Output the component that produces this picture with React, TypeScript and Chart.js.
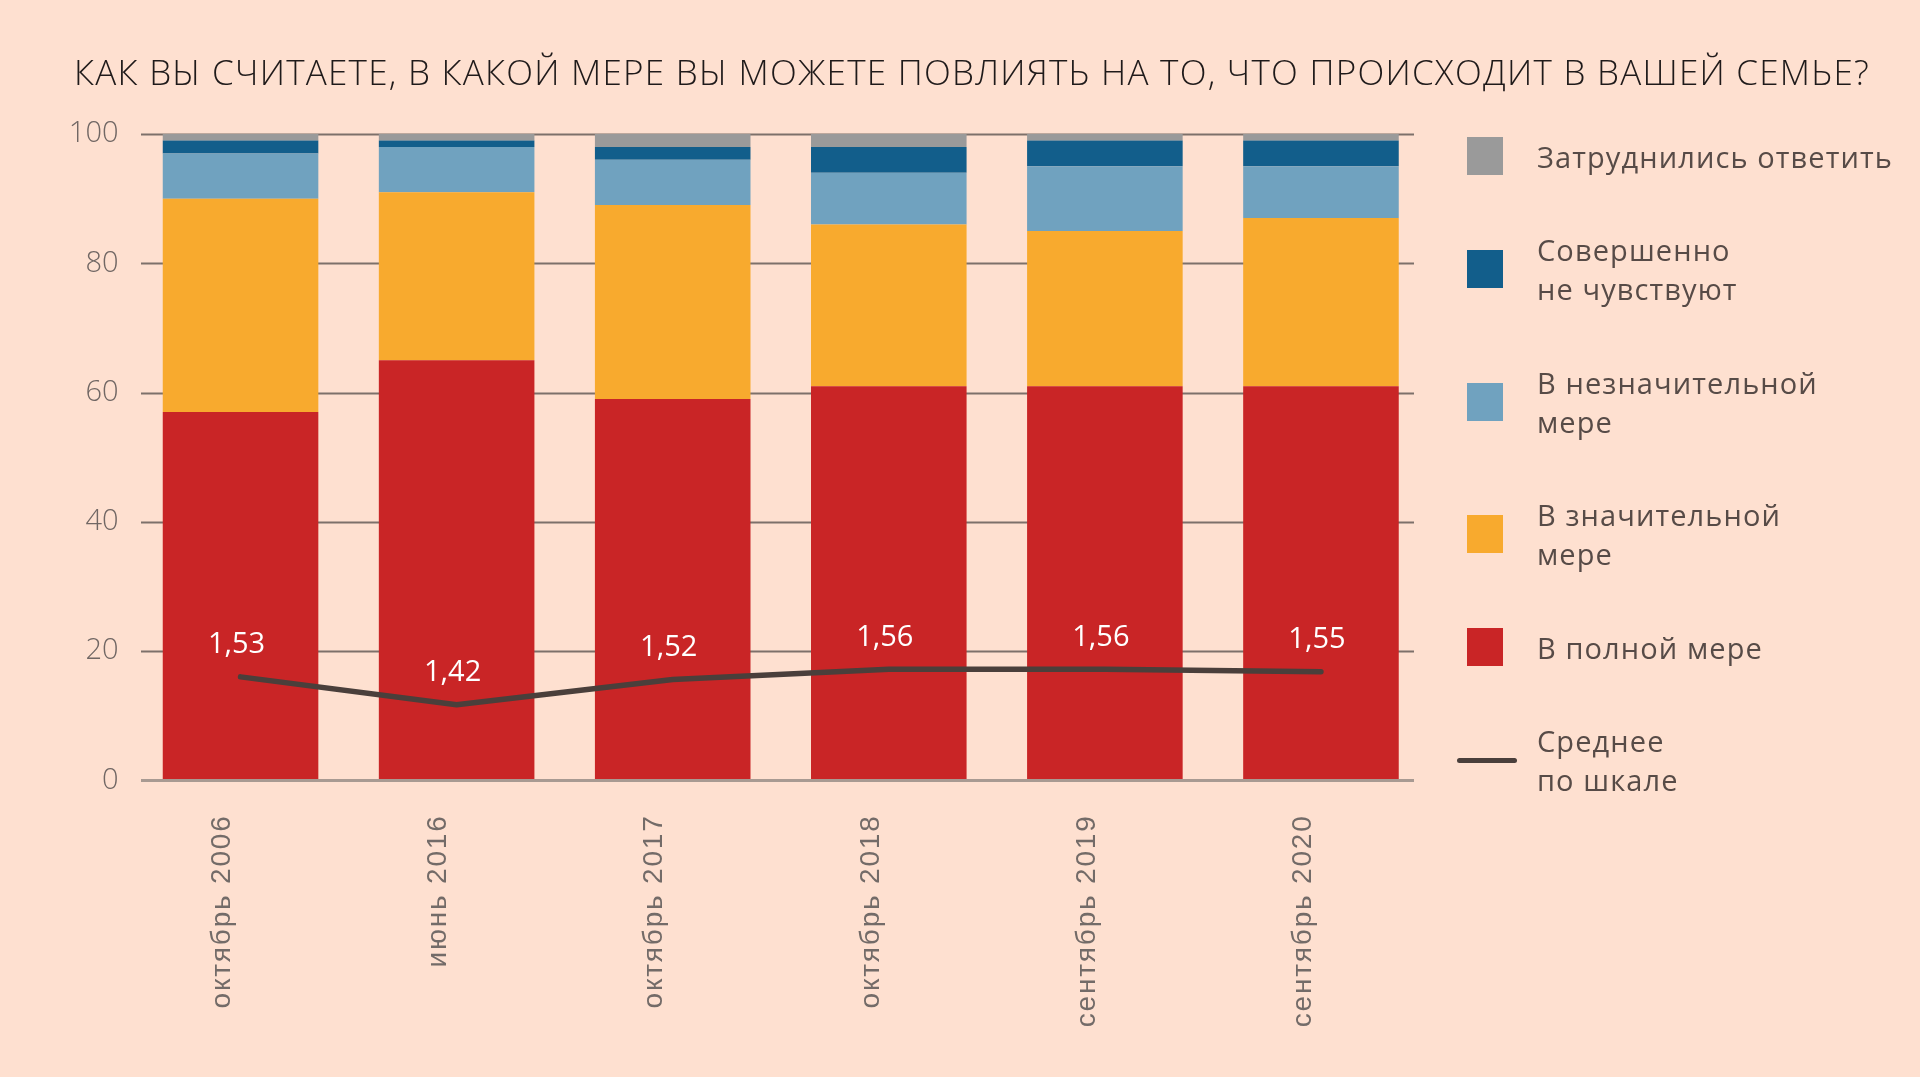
import React, { useEffect, useRef } from "react";
import { Chart, registerables } from "chart.js";

Chart.register(...registerables);

const TITLE =
  "КАК ВЫ СЧИТАЕТЕ, В КАКОЙ МЕРЕ ВЫ МОЖЕТЕ ПОВЛИЯТЬ НА ТО, ЧТО ПРОИСХОДИТ В ВАШЕЙ СЕМЬЕ?";

const categories = [
  "октябрь 2006",
  "июнь 2016",
  "октябрь 2017",
  "октябрь 2018",
  "сентябрь 2019",
  "сентябрь 2020",
];

const fullyValues = [57, 65, 59, 61, 61, 61];
const significantValues = [33, 26, 30, 25, 24, 26];
const insignificantValues = [7, 7, 7, 8, 10, 8];
const notAtAllValues = [2, 1, 2, 4, 4, 4];
const hardToSayValues = [1, 1, 2, 2, 1, 1];
const meanScaleValues = [1.53, 1.42, 1.52, 1.56, 1.56, 1.55];

const yTickValues = [0, 20, 40, 60, 80, 100];

const barSeriesNames = [
  "В полной мере",
  "В значительной мере",
  "В незначительной мере",
  "Совершенно не чувствуют",
  "Затруднились ответить",
];
const barSeriesValues = [
  fullyValues,
  significantValues,
  insignificantValues,
  notAtAllValues,
  hardToSayValues,
];
const barSeriesColors = ["#c92526", "#f8aa2e", "#70a2bf", "#125e8b", "#9a9a9a"];
const lineSeriesName = "Среднее по шкале";
const lineColor = "#4a3f3b";

// legend (top to bottom)
const legendLabels = [
  "Затруднились ответить",
  "Совершенно\nне чувствуют",
  "В незначительной\nмере",
  "В значительной\nмере",
  "В полной мере",
  "Среднее\nпо шкале",
];
const legendColors = ["#9a9a9a", "#125e8b", "#70a2bf", "#f8aa2e", "#c92526", lineColor];
const legendKinds = ["box", "box", "box", "box", "box", "line"];

const BG = "#fee0d0";

function formatComma(v: number) {
  return v.toFixed(2).replace(".", ",");
}

const insetGridPlugin = {
  id: "insetGrid",
  beforeDatasetsDraw(chart: any) {
    const { ctx, chartArea, scales } = chart;
    const y = scales.y;
    const left = chartArea.left + 8.5;
    const right = chartArea.right - 15;
    ctx.save();
    ctx.strokeStyle = "#7d706a";
    ctx.lineWidth = 2;
    yTickValues.forEach((v) => {
      if (v === 0) return;
      const py = Math.round(y.getPixelForValue(v)) + 0.5;
      ctx.beginPath();
      ctx.moveTo(left, py);
      ctx.lineTo(right, py);
      ctx.stroke();
    });
    ctx.restore();
  },
  afterDatasetsDraw(chart: any) {
    const { ctx, chartArea, scales } = chart;
    const y = scales.y;
    const left = chartArea.left + 8.5;
    const right = chartArea.right - 15;
    ctx.save();
    ctx.strokeStyle = "#a89a92";
    ctx.lineWidth = 3;
    const py = y.getPixelForValue(0);
    ctx.beginPath();
    ctx.moveTo(left, py);
    ctx.lineTo(right, py);
    ctx.stroke();

    // value labels for the mean line
    const lineIndex = chart.data.datasets.findIndex((d: any) => d.type === "line");
    const meta = chart.getDatasetMeta(lineIndex);
    ctx.fillStyle = "#ffffff";
    ctx.font = "29px 'Open Sans'";
    ctx.textAlign = "center";
    ctx.textBaseline = "middle";
    meta.data.forEach((pt: any, i: number) => {
      ctx.fillText(formatComma(meanScaleValues[i]), pt.x - 4, pt.y - 32);
    });
    ctx.restore();
  },
  afterDraw(chart: any) {
    const { ctx, chartArea, scales } = chart;
    const x = scales.x;
    ctx.save();
    ctx.fillStyle = "#736b68";
    ctx.font = "28px 'Liberation Sans'";
    try {
      (ctx as any).letterSpacing = "1.8px";
    } catch (e) {}
    ctx.textAlign = "right";
    ctx.textBaseline = "middle";
    categories.forEach((label, i) => {
      const px = x.getPixelForValue(i) - 18;
      const py = chartArea.bottom + 34;
      ctx.save();
      ctx.translate(px, py);
      ctx.rotate(-Math.PI / 2);
      ctx.fillText(label, 0, 0);
      ctx.restore();
    });
    ctx.restore();
  },
};

function ChartCanvas() {
  const ref = useRef<HTMLCanvasElement | null>(null);
  useEffect(() => {
    if (!ref.current) return;
    const datasets: any[] = [
      {
        type: "line",
        label: lineSeriesName,
        data: meanScaleValues,
        yAxisID: "y2",
        borderColor: lineColor,
        backgroundColor: lineColor,
        borderWidth: 5.5,
        borderCapStyle: "round",
        borderJoinStyle: "round",
        pointRadius: 0,
        tension: 0,
        order: 0,
      },
      ...barSeriesNames.map((name, i) => ({
        type: "bar",
        label: name,
        data: barSeriesValues[i],
        backgroundColor: barSeriesColors[i],
        borderWidth: 0,
        yAxisID: "y",
        stack: "s",
        order: 1,
        categoryPercentage: 1,
        barPercentage: 0.72,
      })),
    ];
    const chart = new Chart(ref.current, {
      type: "bar",
      data: { labels: categories, datasets },
      options: {
        animation: false,
        responsive: true,
        maintainAspectRatio: false,
        layout: { padding: { top: 134, right: 491, bottom: 0, left: 0 } },
        plugins: {
          legend: { display: false },
          tooltip: { enabled: false },
          title: { display: false },
        },
        scales: {
          x: {
            stacked: true,
            grid: { display: false },
            border: { display: false },
            ticks: { display: false },
            afterFit: (scale: any) => {
              scale.height = 296.5;
            },
          },
          y: {
            stacked: true,
            min: 0,
            max: 100,
            grid: { display: false, drawTicks: false },
            border: { display: false },
            afterBuildTicks: (scale: any) => {
              scale.ticks = yTickValues.map((v) => ({ value: v }));
            },
            ticks: {
              color: "#716764",
              padding: 14,
              font: { family: "'Open Sans'", size: 29, weight: 300 as any },
            },
            afterFit: (scale: any) => {
              scale.width = 132.5;
            },
          },
          y2: {
            display: false,
            min: 1.122,
            max: 3.667,
          },
        },
      } as any,
      plugins: [insetGridPlugin],
    });
    return () => chart.destroy();
  }, []);
  return (
    <div style={{ position: "absolute", left: 0, top: 0, width: 1920, height: 1077 }}>
      <canvas ref={ref} />
    </div>
  );
}

export default function App() {
  return (
    <div
      style={{
        position: "fixed",
        left: 0,
        top: 0,
        width: 1920,
        height: 1077,
        background: BG,
        overflow: "hidden",
      }}
    >
      <ChartCanvas />
      <div
        style={{
          position: "absolute",
          left: 74,
          top: 54,
          fontFamily: "'Open Sans', sans-serif",
          fontWeight: 300,
          fontSize: 35,
          lineHeight: "36px",
          letterSpacing: 1.25,
          color: "#1f1a1a",
          whiteSpace: "nowrap",
        }}
      >
        {TITLE}
      </div>
      <div style={{ position: "absolute", left: 1457, top: 136.5 }}>
        {legendLabels.map((label, i) => (
          <div
            key={i}
            style={{
              display: "flex",
              alignItems: "center",
              marginBottom: 54.5,
            }}
          >
            <div style={{ width: 80, flexShrink: 0, display: "flex", alignItems: "center" }}>
              {legendKinds[i] === "box" ? (
                <div
                  style={{
                    width: 36,
                    height: 38,
                    marginLeft: 10,
                    background: legendColors[i],
                  }}
                />
              ) : (
                <div
                  style={{
                    width: 60,
                    height: 5,
                    borderRadius: 3,
                    background: legendColors[i],
                  }}
                />
              )}
            </div>
            <div
              style={{
                fontFamily: "'Open Sans', sans-serif",
                fontSize: 29,
                fontWeight: 500,
                lineHeight: "39px",
                color: "#574b47",
                letterSpacing: 1.1,
                whiteSpace: "pre-line",
              }}
            >
              {label}
            </div>
          </div>
        ))}
      </div>
    </div>
  );
}
